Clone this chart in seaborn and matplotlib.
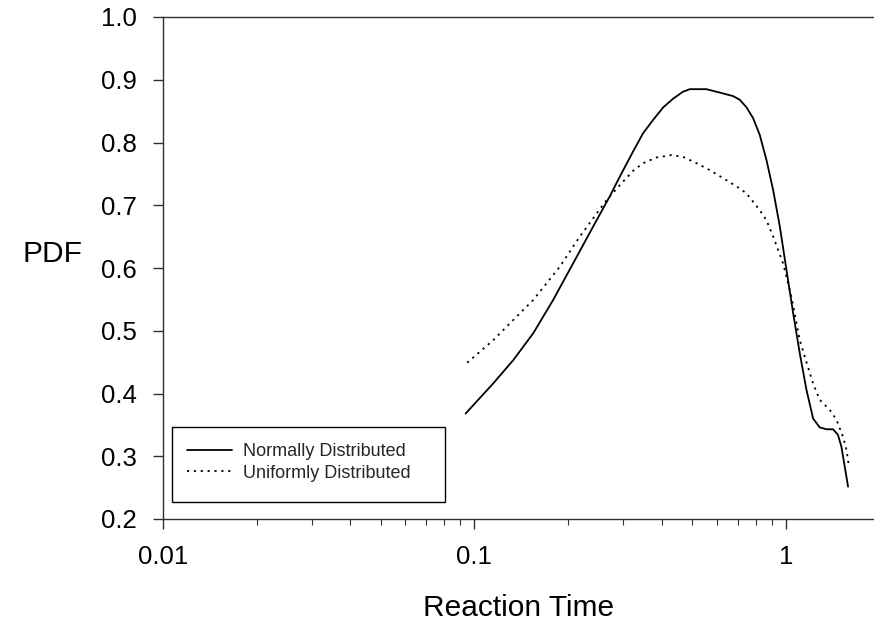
import matplotlib
matplotlib.use("Agg")
import matplotlib.pyplot as plt
from matplotlib.patches import Rectangle
from matplotlib.ticker import FixedLocator, FormatStrFormatter, LogLocator, NullFormatter
import seaborn as sns
import pandas as pd

normal_x = [0.0937, 0.1149, 0.1332, 0.1545, 0.179, 0.2076, 0.2406, 0.272, 0.293, 0.3236,
            0.348, 0.375, 0.404, 0.435, 0.468, 0.492, 0.556, 0.620, 0.677, 0.712,
            0.748, 0.785, 0.825, 0.867, 0.911, 0.957, 1.005, 1.056, 1.109, 1.165,
            1.224, 1.285, 1.351, 1.419, 1.471, 1.509, 1.547, 1.585]
normal_y = [0.368, 0.416, 0.453, 0.496, 0.549, 0.6075, 0.666, 0.714, 0.7455, 0.786,
            0.8147, 0.836, 0.856, 0.870, 0.881, 0.885, 0.885, 0.879, 0.874, 0.868,
            0.856, 0.839, 0.812, 0.772, 0.724, 0.666, 0.597, 0.528, 0.464, 0.406,
            0.360, 0.346, 0.343, 0.343, 0.334, 0.315, 0.283, 0.2515]

uniform_x = [0.0948, 0.1149, 0.1332, 0.1545, 0.188, 0.218, 0.2496, 0.2656, 0.293, 0.3236,
             0.348, 0.384, 0.430, 0.468, 0.517, 0.570, 0.630, 0.695, 0.748, 0.825,
             0.867, 0.911, 0.98, 1.043, 1.109, 1.165, 1.224, 1.285, 1.384, 1.455,
             1.527, 1.567, 1.597]
uniform_y = [0.449, 0.485, 0.517, 0.549, 0.602, 0.650, 0.690, 0.708, 0.732, 0.755,
             0.767, 0.776, 0.780, 0.777, 0.767, 0.756, 0.743, 0.730, 0.719, 0.692,
             0.676, 0.650, 0.6075, 0.554, 0.485, 0.450, 0.416, 0.390, 0.374, 0.358,
             0.331, 0.310, 0.282]

series_labels = ["Normally Distributed", "Uniformly Distributed"]
y_ticks = [0.2, 0.3, 0.4, 0.5, 0.6, 0.7, 0.8, 0.9, 1.0]
x_ticks = [0.01, 0.1, 1]
x_tick_labels = ["0.01", "0.1", "1"]

sns.set_theme(style="ticks")
plt.rcParams["font.family"] = ["Liberation Sans", "DejaVu Sans"]

fig = plt.figure(figsize=(8.74, 6.29), dpi=100)
ax = fig.add_axes([163 / 874, 1 - 519 / 629, 1 - 163 / 874, (519 - 17) / 629])

df_n = pd.DataFrame({"x": normal_x, "y": normal_y})
df_u = pd.DataFrame({"x": uniform_x, "y": uniform_y})
sns.lineplot(data=df_n, x="x", y="y", ax=ax, color="black", linewidth=1.3,
             sort=False, estimator=None, label=series_labels[0])
sns.lineplot(data=df_u, x="x", y="y", ax=ax, color="black", linewidth=1.3,
             sort=False, estimator=None, label=series_labels[1])
ax.lines[1].set_dashes((1.2, 2.6))
for ln in ax.lines:
    ln.set_solid_joinstyle("round")

ax.set_xscale("log")
ax.set_xlim(0.01, 1.92)
ax.set_ylim(0.2, 1.0)

ax.xaxis.set_major_locator(FixedLocator(x_ticks))
ax.set_xticklabels(x_tick_labels)
ax.xaxis.set_minor_locator(LogLocator(base=10, subs=[2, 3, 4, 5, 6, 7, 8, 9]))
ax.xaxis.set_minor_formatter(NullFormatter())
ax.set_yticks(y_ticks)
ax.yaxis.set_major_formatter(FormatStrFormatter("%.1f"))

spine_col = "#303030"
for side in ["left", "bottom", "top"]:
    ax.spines[side].set_color(spine_col)
    ax.spines[side].set_linewidth(1.0)
ax.spines["right"].set_visible(False)

ax.tick_params(axis="both", which="major", direction="out", length=7, width=1,
               colors=spine_col, labelcolor="black", labelsize=18.5)
ax.tick_params(axis="x", which="major", pad=12)
ax.tick_params(axis="y", which="major", pad=12)
ax.tick_params(axis="x", which="minor", direction="out", length=4, width=0.8, colors=spine_col)

ax.set_xlabel("Reaction Time", fontsize=21.5, labelpad=18, color="black")
ax.set_ylabel("PDF", fontsize=21.5, rotation=0, color="black")
ax.yaxis.set_label_coords(-0.155, 0.5)

ax.get_legend().remove()
ax.add_patch(Rectangle((9 / 711, 17 / 502), 273 / 711, 75 / 502, transform=ax.transAxes,
                       facecolor="white", edgecolor="black", linewidth=1.0, zorder=5))
leg = ax.legend(loc="upper left", bbox_to_anchor=((186.7 - 163) / 711, (519 - 443) / 502),
                frameon=False, fontsize=13, borderpad=0, borderaxespad=0,
                handlelength=2.5, handletextpad=0.6, labelspacing=0.25)
leg.set_zorder(6)

fig.savefig("out.png", dpi=100, facecolor="white")
